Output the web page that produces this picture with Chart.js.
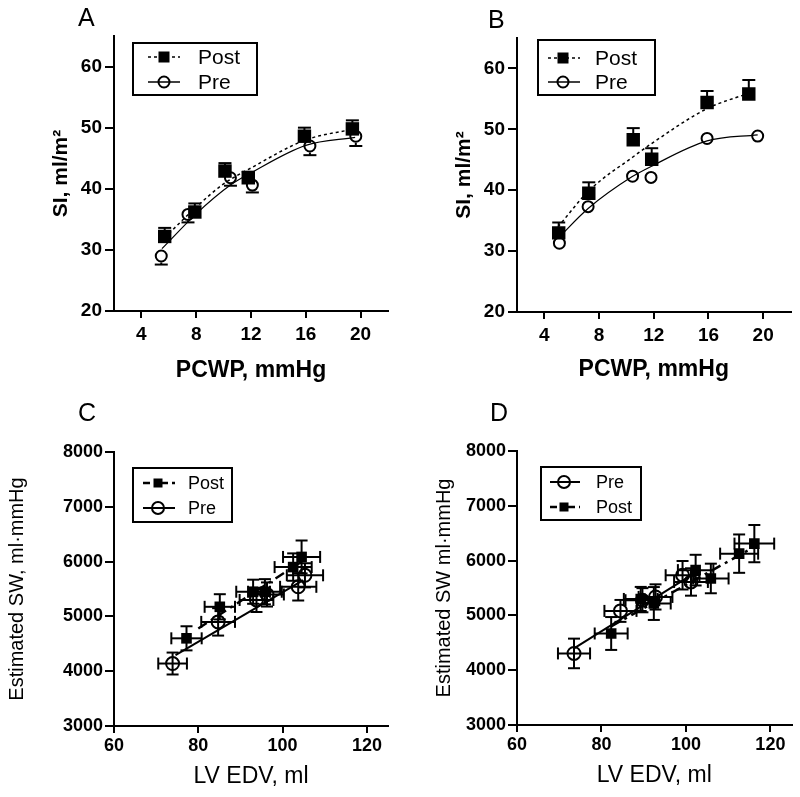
<!DOCTYPE html>
<html>
<head>
<meta charset="utf-8">
<script src="https://cdn.jsdelivr.net/npm/chart.js@4.4.1/dist/chart.umd.min.js"></script>
<style>
  body { margin: 0; background: #fff; width: 800px; height: 797px; position: relative; overflow: hidden;
         font-family: "Liberation Sans", Arial, sans-serif; }
  canvas { position: absolute; }
  .lbl { position: absolute; font-size: 25px; line-height: 1; color: #000; }
</style>
</head>
<body>
<canvas id="cA" width="400" height="400" style="left:0;top:0"></canvas>
<canvas id="cB" width="400" height="400" style="left:400px;top:0"></canvas>
<canvas id="cC" width="400" height="397" style="left:0;top:400px"></canvas>
<canvas id="cD" width="400" height="397" style="left:400px;top:400px"></canvas>
<div class="lbl" style="left:78px;top:5px">A</div>
<div class="lbl" style="left:488px;top:7px">B</div>
<div class="lbl" style="left:78px;top:400px">C</div>
<div class="lbl" style="left:490px;top:400px">D</div>
<script>
// tick labels
const abXTicks = [4, 8, 12, 16, 20];
const abYTicks = [20, 30, 40, 50, 60];
const cdXTicks = [60, 80, 100, 120];
const cdYTicks = [3000, 4000, 5000, 6000, 7000, 8000];

// Panel A : SI vs PCWP
const aPostX = [5.7, 7.9, 10.1, 11.8, 15.9, 19.4];
const aPostY = [32.2, 36.2, 42.9, 41.8, 48.6, 49.8];
const aPostErr = [1.4, 1.4, 1.3, 1.0, 1.4, 1.4];
const aPreX = [5.45, 7.4, 10.5, 12.1, 16.3, 19.65];
const aPreY = [29.0, 35.8, 41.8, 40.6, 47.0, 48.6];
const aPreErr = [1.4, 1.3, 1.3, 1.2, 1.5, 1.6];
const aPostFitX = [5.7, 8, 10, 12, 16, 19.3];
const aPostFitY = [32.0, 37.0, 40.8, 43.4, 48.0, 49.7];
const aPreFitX = [5.5, 8, 10.5, 12, 16, 19.6];
const aPreFitY = [30.2, 35.9, 40.6, 42.6, 47.1, 48.4];

// Panel B
const bPostX = [5.05, 7.25, 10.5, 11.85, 15.9, 18.95];
const bPostY = [33.0, 39.5, 48.3, 45.1, 54.4, 55.8];
const bPostErr = [1.7, 1.8, 1.9, 1.8, 1.9, 2.3];
const bPreX = [5.1, 7.2, 10.45, 11.8, 15.9, 19.6];
const bPreY = [31.3, 37.3, 42.3, 42.1, 48.5, 48.9];
const bPreErr = [0.6, 0.5, 0.5, 0.5, 0.5, 0.5];
const bPostFitX = [5.0, 7.3, 10.5, 11.8, 15.9, 18.9];
const bPostFitY = [34.0, 40.0, 45.5, 47.6, 53.4, 55.9];
const bPreFitX = [5.0, 7.2, 10.4, 11.8, 15.9, 19.6];
const bPreFitY = [32.1, 37.0, 42.2, 43.9, 48.1, 49.1];

// Panel C : estimated SW vs LV EDV
const cPostX = [77.2, 85.1, 93.0, 95.8, 102.5, 104.5];
const cPostY = [4600, 5175, 5450, 5450, 5900, 6085];
const cPostErrX = [3.6, 3.6, 4.0, 4.0, 4.4, 4.4];
const cPostErrY = [220, 230, 220, 230, 250, 300];
const cPreX = [73.9, 84.7, 93.8, 96.3, 103.7, 105.3];
const cPreY = [4140, 4900, 5300, 5400, 5540, 5750];
const cPreErrX = [3.4, 4.0, 4.0, 4.0, 4.3, 4.3];
const cPreErrY = [200, 250, 220, 220, 250, 220];
const cPostFitX = [80, 104.5];
const cPostFitY = [4780, 6000];
const cPreFitX = [74.6, 104.9];
const cPreFitY = [4295, 5660];

// Panel D
const dPreX = [73.5, 84.5, 89.7, 92.8, 99.2, 101.2];
const dPreY = [4306, 5082, 5277, 5337, 5733, 5610];
const dPreErrX = [3.8, 3.8, 4.0, 4.0, 4.0, 4.0];
const dPreErrY = [270, 200, 220, 230, 260, 250];
const dPostX = [82.3, 89.3, 92.4, 102.3, 105.9, 112.6, 116.2];
const dPostY = [4670, 5300, 5217, 5826, 5674, 6127, 6310];
const dPostErrX = [3.9, 4.0, 4.0, 4.2, 4.2, 4.5, 4.7];
const dPostErrY = [300, 220, 300, 280, 270, 350, 340];
const dPostFitX = [82.3, 116.2];
const dPostFitY = [4800, 6250];
const dPreFitX = [73.5, 101.2];
const dPreFitY = [4400, 5730];

Chart.defaults.font.family = '"Liberation Sans", Arial, sans-serif';
Chart.defaults.color = '#000';

const pts = (xs, ys) => xs.map((x, i) => ({ x, y: ys[i] }));

// error bars drawn under the markers
const errorBars = {
  id: 'errorBars',
  beforeDatasetsDraw(chart) {
    const { ctx, scales: { x, y } } = chart;
    ctx.save();
    ctx.strokeStyle = '#000';
    ctx.lineWidth = 2;
    const seg = (x0, y0, x1, y1) => { ctx.beginPath(); ctx.moveTo(x0, y0); ctx.lineTo(x1, y1); ctx.stroke(); };
    chart.data.datasets.forEach(ds => {
      if (!ds.errY) return;
      const cap = ds.capHalf || 6;
      const gap = ds.errGap || 0;
      ds.data.forEach((p, i) => {
        const px = x.getPixelForValue(p.x);
        const py = y.getPixelForValue(p.y);
        const e = ds.errY[i];
        if (ds.errDir !== 'down') {
          const yt = y.getPixelForValue(p.y + e);
          if (py - yt > gap) { seg(px, py - gap, px, yt); seg(px - cap, yt, px + cap, yt); }
        }
        if (ds.errDir !== 'up') {
          const yb = y.getPixelForValue(p.y - e);
          if (yb - py > gap) { seg(px, py + gap, px, yb); seg(px - cap, yb, px + cap, yb); }
        }
        if (ds.errX) {
          const xl = x.getPixelForValue(p.x - ds.errX[i]);
          const xr = x.getPixelForValue(p.x + ds.errX[i]);
          seg(xl, py, xr, py);
          seg(xl, py - cap, xl, py + cap);
          seg(xr, py - cap, xr, py + cap);
        }
      });
    });
    ctx.restore();
  }
};

// boxed legend like the original figure
function boxLegend(cfg) {
  return {
    id: 'boxLegend',
    afterDraw(chart) {
      const ctx = chart.ctx;
      ctx.save();
      ctx.strokeStyle = '#000';
      ctx.lineWidth = 2;
      ctx.strokeRect(cfg.box[0], cfg.box[1], cfg.box[2], cfg.box[3]);
      cfg.items.forEach(it => {
        ctx.save();
        ctx.lineWidth = it.lineWidth;
        ctx.setLineDash(it.dash);
        ctx.beginPath();
        ctx.moveTo(cfg.x0, it.y);
        ctx.lineTo(cfg.x1, it.y);
        ctx.stroke();
        ctx.restore();
        if (it.marker === 'rect') {
          ctx.fillStyle = '#000';
          ctx.fillRect(cfg.mx - it.size / 2, it.y - it.size / 2, it.size, it.size);
        } else {
          ctx.lineWidth = 2;
          ctx.beginPath();
          ctx.arc(cfg.mx, it.y, it.size, 0, 2 * Math.PI);
          ctx.stroke();
        }
        ctx.fillStyle = '#000';
        ctx.font = cfg.font;
        ctx.textBaseline = 'middle';
        ctx.fillText(it.label, cfg.tx, it.y + 1);
      });
      ctx.restore();
    }
  };
}

function makeAxis(o) {
  return {
    type: 'linear',
    min: o.min,
    max: o.max,
    afterBuildTicks: s => { s.ticks = o.ticks.map(v => ({ value: v })); },
    afterFit: s => { if (o.isX) s.height = o.size; else s.width = o.size; },
    ticks: {
      font: { size: o.tickSize, weight: 'bold' },
      color: '#000',
      padding: o.tickPad,
      callback: v => String(v)
    },
    grid: { drawOnChartArea: false, drawTicks: true, tickLength: o.tickLen, color: '#000', lineWidth: 2 },
    border: { display: true, color: '#000', width: 2 },
    title: {
      display: true,
      text: o.title,
      color: '#000',
      font: { size: o.titleSize, weight: o.titleWeight },
      padding: o.titlePad
    }
  };
}

function makeChart(id, p) {
  new Chart(document.getElementById(id), {
    type: 'scatter',
    data: { datasets: p.datasets },
    options: {
      responsive: false,
      animation: false,
      devicePixelRatio: 1,
      layout: { padding: p.padding },
      plugins: { legend: { display: false }, tooltip: { enabled: false } },
      scales: { x: makeAxis(p.x), y: makeAxis(p.y) }
    },
    plugins: [errorBars, boxLegend(p.legend)]
  });
}

function squares(data, r, extra) {
  return Object.assign({ data, pointStyle: 'rect', pointRadius: r, backgroundColor: '#000',
    borderColor: '#000', borderWidth: 0, showLine: false }, extra);
}
function circles(data, r, extra) {
  return Object.assign({ data, pointStyle: 'circle', pointRadius: r, backgroundColor: 'rgba(0,0,0,0)',
    borderColor: '#000', borderWidth: 2, showLine: false }, extra);
}
function fitLine(data, dash, width, mono) {
  return { data, showLine: true, pointRadius: 0, borderColor: '#000', borderWidth: width,
    borderDash: dash, cubicInterpolationMode: mono ? 'monotone' : 'default', tension: mono ? 0.4 : 0, fill: false };
}

// ----- A & B (bold axes) -----
function abAxes(yTitlePad, xTitlePad, yWidth, xHeight) {
  return {
    x: { isX: true, min: 2, max: 22, ticks: abXTicks, size: xHeight, tickSize: 19, tickPad: 5, tickLen: 7,
         title: 'PCWP, mmHg', titleSize: 23, titleWeight: 'bold', titlePad: { top: 0, bottom: xTitlePad } },
    y: { isX: false, min: 20, max: 65, ticks: abYTicks, size: yWidth, tickSize: 19, tickPad: 3, tickLen: 9,
         title: 'SI, ml/m²', titleSize: 21, titleWeight: 'bold', titlePad: { top: yTitlePad, bottom: 0 } }
  };
}

const axA = abAxes(49, 16, 114, 89);
makeChart('cA', {
  padding: { left: 0, top: 36, right: 12, bottom: 0 },
  x: axA.x, y: axA.y,
  datasets: [
    squares(pts(aPostX, aPostY), 9.5, { errY: aPostErr, errDir: 'up', capHalf: 6.5, errGap: 6 }),
    circles(pts(aPreX, aPreY), 5.5, { errY: aPreErr, errDir: 'down', capHalf: 6.5, errGap: 6.5 }),
    fitLine(pts(aPostFitX, aPostFitY), [3, 3], 1.5, true),
    fitLine(pts(aPreFitX, aPreFitY), [], 1.2, true)
  ],
  legend: {
    box: [133, 43, 124, 52], x0: 148, x1: 180, mx: 164, tx: 198, font: '21px "Liberation Sans", Arial, sans-serif',
    items: [
      { label: 'Post', y: 57, dash: [3, 3], lineWidth: 1.5, marker: 'rect', size: 11 },
      { label: 'Pre', y: 82, dash: [], lineWidth: 1.5, marker: 'circle', size: 5.5 }
    ]
  }
});

const axB = abAxes(52, 17, 117, 88);
makeChart('cB', {
  padding: { left: 0, top: 38, right: 8, bottom: 0 },
  x: axB.x, y: axB.y,
  datasets: [
    squares(pts(bPostX, bPostY), 9.5, { errY: bPostErr, errDir: 'up', capHalf: 6.5, errGap: 6 }),
    circles(pts(bPreX, bPreY), 5.5, { errY: bPreErr, errDir: 'down', capHalf: 6.5, errGap: 6.5 }),
    fitLine(pts(bPostFitX, bPostFitY), [3, 3], 1.5, true),
    fitLine(pts(bPreFitX, bPreFitY), [], 1.2, true)
  ],
  legend: {
    box: [138, 40, 117, 55], x0: 148, x1: 180, mx: 163, tx: 195, font: '21px "Liberation Sans", Arial, sans-serif',
    items: [
      { label: 'Post', y: 58, dash: [3, 3], lineWidth: 1.5, marker: 'rect', size: 11 },
      { label: 'Pre', y: 82, dash: [], lineWidth: 1.5, marker: 'circle', size: 5.5 }
    ]
  }
});

// ----- C & D -----
function cdAxes(yTitle, yTitlePad, xTitlePad, yWidth, xHeight) {
  return {
    x: { isX: true, min: 60, max: 125, ticks: cdXTicks, size: xHeight, tickSize: 18, tickPad: 2, tickLen: 7,
         title: 'LV EDV, ml', titleSize: 23, titleWeight: 'normal', titlePad: { top: 0, bottom: xTitlePad } },
    y: { isX: false, min: 3000, max: 8000, ticks: cdYTicks, size: yWidth, tickSize: 18, tickPad: 2, tickLen: 9,
         title: yTitle, titleSize: 20, titleWeight: 'normal', titlePad: { top: yTitlePad, bottom: 0 } }
  };
}
const postDash = [10, 5, 3, 5];

const axC = cdAxes('Estimated SW, ml·mmHg', 5, 7, 114, 71);
makeChart('cC', {
  padding: { left: 0, top: 52, right: 12, bottom: 0 },
  x: axC.x, y: axC.y,
  datasets: [
    squares(pts(cPostX, cPostY), 7.5, { errY: cPostErrY, errX: cPostErrX, capHalf: 6 }),
    circles(pts(cPreX, cPreY), 6.5, { errY: cPreErrY, errX: cPreErrX, capHalf: 6 }),
    fitLine(pts(cPostFitX, cPostFitY), postDash, 2.5, false),
    fitLine(pts(cPreFitX, cPreFitY), [], 2, false)
  ],
  legend: {
    box: [133, 68, 99, 54], x0: 143, x1: 175, mx: 158, tx: 188, font: '18px "Liberation Sans", Arial, sans-serif',
    items: [
      { label: 'Post', y: 83, dash: [7, 4, 3, 4], lineWidth: 2.5, marker: 'rect', size: 9 },
      { label: 'Pre', y: 108, dash: [], lineWidth: 2, marker: 'circle', size: 6 }
    ]
  }
});

const axD = cdAxes('Estimated SW ml·mmHg', 32, 8, 117, 72);
makeChart('cD', {
  padding: { left: 0, top: 51, right: 8, bottom: 0 },
  x: axD.x, y: axD.y,
  datasets: [
    squares(pts(dPostX, dPostY), 7.5, { errY: dPostErrY, errX: dPostErrX, capHalf: 6 }),
    circles(pts(dPreX, dPreY), 6.5, { errY: dPreErrY, errX: dPreErrX, capHalf: 6 }),
    fitLine(pts(dPostFitX, dPostFitY), postDash, 2.5, false),
    fitLine(pts(dPreFitX, dPreFitY), [], 2, false)
  ],
  legend: {
    box: [141, 67, 100, 53], x0: 150, x1: 180, mx: 164, tx: 196, font: '18px "Liberation Sans", Arial, sans-serif',
    items: [
      { label: 'Pre', y: 82, dash: [], lineWidth: 2, marker: 'circle', size: 6 },
      { label: 'Post', y: 107, dash: [7, 4, 3, 4], lineWidth: 2.5, marker: 'rect', size: 9 }
    ]
  }
});
</script>
</body>
</html>
